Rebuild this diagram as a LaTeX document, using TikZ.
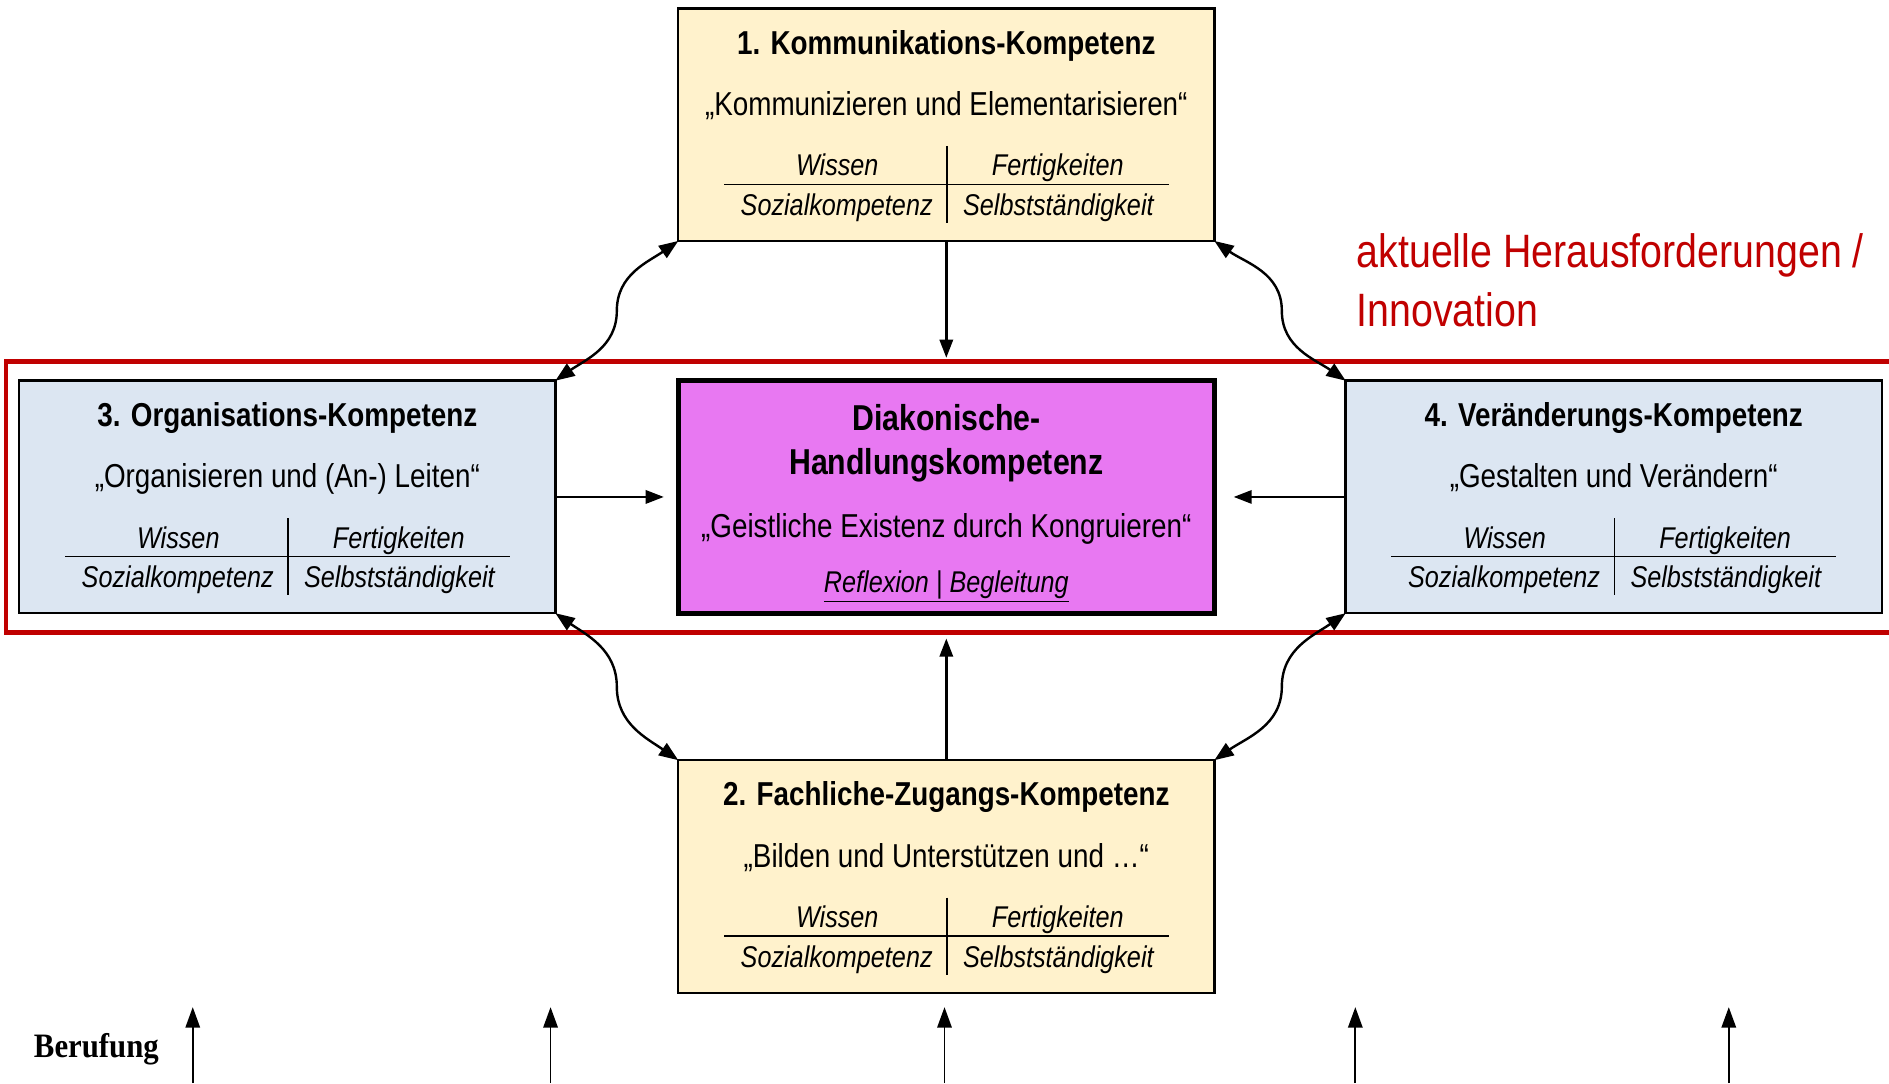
\documentclass[tikz,border=0pt]{standalone}
\usepackage{fontspec}
\setmainfont{Liberation Sans}[FakeStretch=0.84]
\newfontfamily\berfont{Liberation Serif}[FakeStretch=0.9]
\usetikzlibrary{arrows.meta}
\definecolor{kyellow}{HTML}{FFF2CC}
\definecolor{kblue}{HTML}{DCE6F2}
\definecolor{kmag}{HTML}{E878F2}
\definecolor{kred}{HTML}{C00000}
\tikzset{
  kbox/.style={draw=black, line width=2bp, inner sep=0pt, outer sep=0pt,
    minimum width=445bp, minimum height=193bp, anchor=north west},
  ttl/.style={inner sep=0pt, anchor=base, font=\fontsize{27.6}{33}\selectfont\bfseries},
  sub/.style={inner sep=0pt, anchor=base, font=\fontsize{27.6}{33}\selectfont},
  cell/.style={inner sep=0pt, anchor=base, font=\fontsize{25}{30}\selectfont\itshape},
  tline/.style={line width=1.2bp},
  conn/.style={line width=2bp, -{Triangle[length=15bp,width=11bp]}},
  dconn/.style={line width=2bp, {Triangle[length=16bp,width=12bp]}-{Triangle[length=16bp,width=12bp]}},
  redtxt/.style={inner sep=0pt, text=kred, font=\fontsize{39}{47}\selectfont, anchor=base west},
}
\newcommand{\kompbox}[6]{%
  \node[kbox, fill=#4] (#1) at (#2,-#3) {};
  \node[ttl] (#1-t) at (#2+222.5,-#3-38) {#5};
  \node[sub] (#1-u) at (#2+222.5,-#3-89) {#6};
  \node[cell] (#1-w) at (#2+132,-#3-139) {Wissen};
  \node[cell] (#1-f) at (#2+315,-#3-139) {Fertigkeiten};
  \node[cell] (#1-s) at (#2+131.5,-#3-172) {Sozialkompetenz};
  \node[cell] (#1-b) at (#2+315.5,-#3-172) {Selbstständigkeit};
  \draw[tline] (#2+38,-#3-146) -- (#2+407,-#3-146);
  \draw[tline] (#2+223,-#3-114) -- (#2+223,-#3-178);
}
\begin{document}
\begin{tikzpicture}[x=1bp,y=1bp]
\useasboundingbox (0,-899) rectangle (1568,0);
% red frame
\draw[kred, line width=4bp] (1580,-300) -- (5,-300) -- (5,-525) -- (1580,-525);
% boxes
\kompbox{k1}{563}{7}{kyellow}{1. Kommunikations-Kompetenz}{„Kommunizieren und Elementarisieren“}
\kompbox{k3}{16}{316}{kblue}{3. Organisations-Kompetenz}{„Organisieren und (An-) Leiten“}
\kompbox{k4}{1117}{316}{kblue}{4. Veränderungs-Kompetenz}{„Gestalten und Verändern“}
\kompbox{k2}{563}{631}{kyellow}{2. Fachliche-Zugangs-Kompetenz}{„Bilden und Unterstützen und …“}
% centre
\node[kbox, fill=kmag, line width=4bp] (core) at (563,-316) {};
\node[ttl, font=\fontsize{30}{36}\selectfont\bfseries] (core-t1) at (785.5,-357) {Diakonische-};
\node[ttl, font=\fontsize{30}{36}\selectfont\bfseries] (core-t2) at (785.5,-394) {Handlungskompetenz};
\node[sub] (core-u) at (785.5,-446) {„Geistliche Existenz durch Kongruieren“};
\node[cell] (core-r) at (785.5,-492) {\underline{Reflexion | Begleitung}};
% straight arrows
\draw[conn, shorten >=19bp] (k1.south) -- (core.north);
\draw[conn, shorten >=12bp] (k3.east) -- (core.west);
\draw[conn, shorten >=16bp] (k4.west) -- (core.east);
\draw[conn, shorten >=21bp] (k2.north) -- (core.south);
% curved double arrows
\coordinate (mTL) at (512,-258);
\coordinate (mTR) at (1064,-258);
\coordinate (mBL) at (512,-570);
\coordinate (mBR) at (1064,-570);
\draw[dconn] (k3.north east) to[out=35,in=-90] (mTL) to[out=90,in=215] (k1.south west);
\draw[dconn] (k1.south east) to[out=-35,in=90] (mTR) to[out=-90,in=145] (k4.north west);
\draw[dconn] (k3.south east) to[out=-35,in=90] (mBL) to[out=-90,in=145] (k2.north west);
\draw[dconn] (k4.south west) to[out=215,in=90] (mBR) to[out=-90,in=35] (k2.north east);
% red text
\node[redtxt] (red1) at (1126,-222) {aktuelle Herausforderungen /};
\node[redtxt] (red2) at (1126,-271) {Innovation};
% Berufung
\node[inner sep=0pt, anchor=base west, font=\berfont\fontsize{28.5}{32}\selectfont\bfseries] (ber) at (28,-878) {Berufung};
\foreach \i/\xx in {1/160,2/457,3/784,4/1125,5/1435}{
  \coordinate (ub\i) at (\xx,-899);
  \coordinate (ut\i) at (\xx,-836);
  \draw[line width=1.5bp, -{Triangle[length=17bp,width=12bp]}] (ub\i) -- (ut\i);
}
\end{tikzpicture}
\end{document}
